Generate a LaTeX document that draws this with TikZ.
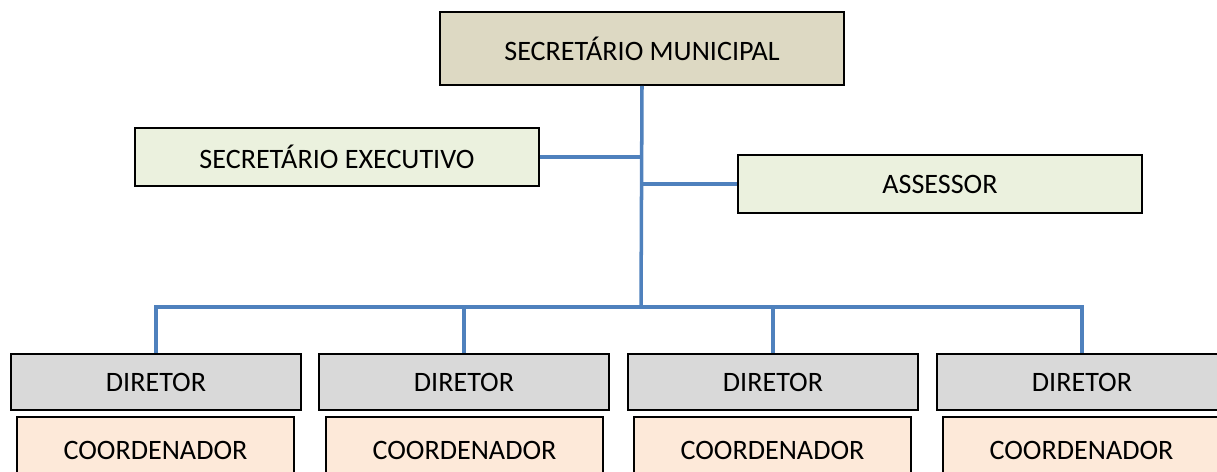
\documentclass[tikz,border=0pt]{standalone}
\usepackage{fontspec}
\setmainfont{Carlito}
\definecolor{tanfill}{HTML}{DDD9C3}
\definecolor{greenfill}{HTML}{EBF1DE}
\definecolor{greyfill}{HTML}{D9D9D9}
\definecolor{peachfill}{HTML}{FDE9D9}
\definecolor{linkblue}{HTML}{4F81BD}
\begin{document}
\begin{tikzpicture}[x=0.02cm, y=-0.02cm,
    box/.style={draw=black, line width=1.1pt, rectangle, inner sep=0pt, font=\fontsize{16}{19}\selectfont},
    topbox/.style={box, fill=tanfill, minimum width=8.08cm, minimum height=1.46cm},
    sidebox/.style={box, fill=greenfill, minimum width=8.08cm, minimum height=1.16cm},
    dirbox/.style={box, fill=greyfill, minimum width=5.8cm, minimum height=1.12cm},
    coordbox/.style={box, fill=peachfill, minimum width=5.54cm, minimum height=1.32cm},
    link/.style={draw=linkblue, line width=2pt}]
            \clip (0,0) rectangle (1217,472);
            \node[topbox] (sec) at (642,48.5) {SECRETÁRIO MUNICIPAL};
            \node[sidebox] (exec) at (337,157) {SECRETÁRIO EXECUTIVO};
            \node[sidebox] (assessor) at (940,184) {ASSESSOR};
            \node[dirbox] (dir1) at (156,382) {DIRETOR};
            \node[dirbox] (dir2) at (464,382) {DIRETOR};
            \node[dirbox] (dir3) at (773,382) {DIRETOR};
            \node[dirbox] (dir4) at (1082,382) {DIRETOR};
            \node[coordbox] (coord1) at (155.5,450) {COORDENADOR};
            \node[coordbox] (coord2) at (464.5,450) {COORDENADOR};
            \node[coordbox] (coord3) at (772.5,450) {COORDENADOR};
            \node[coordbox] (coord4) at (1081.5,450) {COORDENADOR};
            \coordinate (bus) at (641,307);
            \draw[link] (sec.south) -- (bus);
            \draw[link] (exec.east) -- (exec.east -| bus);
            \draw[link] (assessor.west) -- (assessor.west -| bus);
            \draw[link] (dir1.north) |- (bus) -| (dir4.north);
            \draw[link] (dir2.north) -- (dir2.north |- bus);
            \draw[link] (dir3.north) -- (dir3.north |- bus);
        \end{tikzpicture}
\end{document}
